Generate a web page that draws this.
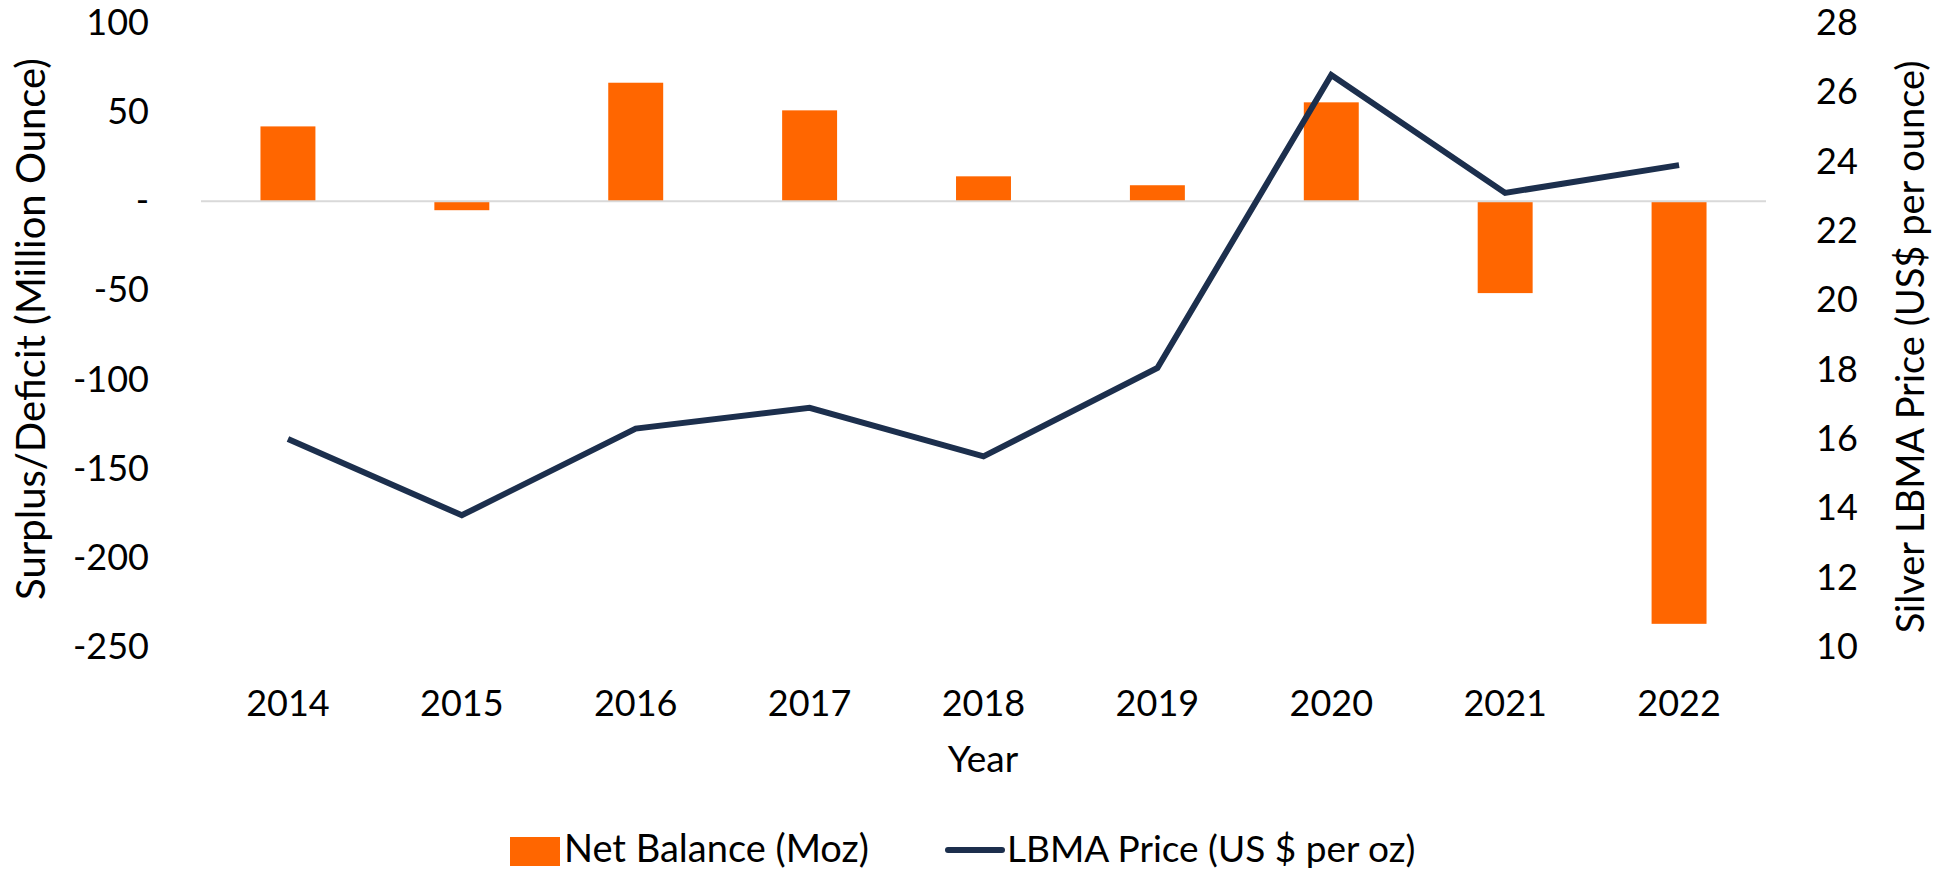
<!DOCTYPE html>
<html>
<head>
<meta charset="utf-8">
<script src="https://cdn.jsdelivr.net/npm/d3@7"></script>
<style>
  body { margin: 0; background: #fff; }
  text { font-family: Lato, 'Noto Sans', sans-serif; fill: #000; }
</style>
</head>
<body>
<div id="chart"></div>
<script>
let years = ['2014', '2015', '2016', '2017', '2018', '2019', '2020', '2021', '2022']
let netBalance = [42, -5, 66.5, 51, 14, 9, 55.5, -51.5, -237]
let lbmaPrice = [16.0, 13.8, 16.3, 16.9, 15.5, 18.05, 26.5, 23.1, 23.9]
let leftTicks = [100, 50, 0, -50, -100, -150, -200, -250]
let rightTicks = [28, 26, 24, 22, 20, 18, 16, 14, 12, 10]

let width = 1944
let height = 873
let margin = { top: 23, left: 201, right: 178, bottom: 226 }

let svg = d3
  .select('#chart')
  .append('svg')
  .attr('width', width)
  .attr('height', height)

let xPositionScale = d3
  .scaleBand()
  .domain(years)
  .range([margin.left, width - margin.right])

let yLeftScale = d3
  .scaleLinear()
  .domain([-250, 100])
  .range([height - margin.bottom, margin.top])

let yRightScale = d3
  .scaleLinear()
  .domain([10, 28])
  .range([height - margin.bottom, margin.top])

let barWidth = xPositionScale.bandwidth() * 0.316

// bars
svg
  .selectAll('.bar')
  .data(years)
  .enter()
  .append('rect')
  .attr('class', 'bar')
  .attr('x', (d, i) => xPositionScale(d) + (xPositionScale.bandwidth() - barWidth) / 2)
  .attr('width', barWidth)
  .attr('y', (d, i) => yLeftScale(Math.max(0, netBalance[i])))
  .attr('height', (d, i) => Math.abs(yLeftScale(netBalance[i]) - yLeftScale(0)))
  .attr('fill', '#ff6600')

// zero line
svg
  .append('line')
  .attr('x1', margin.left)
  .attr('x2', width - margin.right)
  .attr('y1', yLeftScale(0))
  .attr('y2', yLeftScale(0))
  .attr('stroke', '#d9d9d9')
  .attr('stroke-width', 2)

// price line
let line = d3
  .line()
  .x((d, i) => xPositionScale(years[i]) + xPositionScale.bandwidth() / 2)
  .y(d => yRightScale(d))

svg
  .append('path')
  .datum(lbmaPrice)
  .attr('d', line)
  .attr('fill', 'none')
  .attr('stroke', '#1c2f4d')
  .attr('stroke-width', 6)
  .attr('stroke-linejoin', 'miter')

// axes
let leftAxis = d3
  .axisLeft(yLeftScale)
  .tickValues(leftTicks)
  .tickSize(0)
  .tickPadding(0)
  .tickFormat(d => (d === 0 ? '-' : d))

svg
  .append('g')
  .attr('class', 'axis y-left')
  .attr('transform', 'translate(149,0)')
  .call(leftAxis)

let rightAxis = d3
  .axisRight(yRightScale)
  .tickValues(rightTicks)
  .tickSize(0)
  .tickPadding(0)

svg
  .append('g')
  .attr('class', 'axis y-right')
  .attr('transform', 'translate(1816,0)')
  .call(rightAxis)

let xAxis = d3
  .axisBottom(xPositionScale)
  .tickSize(0)
  .tickPadding(0)

svg
  .append('g')
  .attr('class', 'axis x-axis')
  .attr('transform', 'translate(0,' + 703 + ')')
  .call(xAxis)

svg.selectAll('.axis .domain').remove()
svg
  .selectAll('.axis text')
  .attr('font-size', 36)
  .attr('font-family', 'Lato, sans-serif')
  .attr('fill', '#000')
svg.selectAll('.x-axis text').attr('dy', '0.35em')

// axis titles
svg
  .append('text')
  .attr('transform', 'translate(31,329) rotate(-90)')
  .attr('text-anchor', 'middle')
  .attr('dy', '0.35em')
  .attr('font-size', 40)
  .text('Surplus/Deficit (Million Ounce)')

svg
  .append('text')
  .attr('transform', 'translate(1911,347) rotate(-90)')
  .attr('text-anchor', 'middle')
  .attr('dy', '0.35em')
  .attr('font-size', 38)
  .text('Silver LBMA Price (US$ per ounce)')

svg
  .append('text')
  .attr('x', 983)
  .attr('y', 759)
  .attr('text-anchor', 'middle')
  .attr('dy', '0.35em')
  .attr('font-size', 37)
  .text('Year')

// legend
let legend = svg.append('g').attr('class', 'legend')

legend
  .append('rect')
  .attr('x', 510)
  .attr('y', 837)
  .attr('width', 50)
  .attr('height', 29)
  .attr('fill', '#ff6600')

legend
  .append('text')
  .attr('x', 564)
  .attr('y', 849)
  .attr('dy', '0.35em')
  .attr('font-size', 38)
  .text('Net Balance (Moz)')

legend
  .append('line')
  .attr('x1', 948)
  .attr('x2', 1002)
  .attr('y1', 850)
  .attr('y2', 850)
  .attr('stroke', '#1c2f4d')
  .attr('stroke-width', 6)
  .attr('stroke-linecap', 'round')

legend
  .append('text')
  .attr('x', 1007)
  .attr('y', 849)
  .attr('dy', '0.35em')
  .attr('font-size', 37)
  .text('LBMA Price (US $ per oz)')
</script>
</body>
</html>
